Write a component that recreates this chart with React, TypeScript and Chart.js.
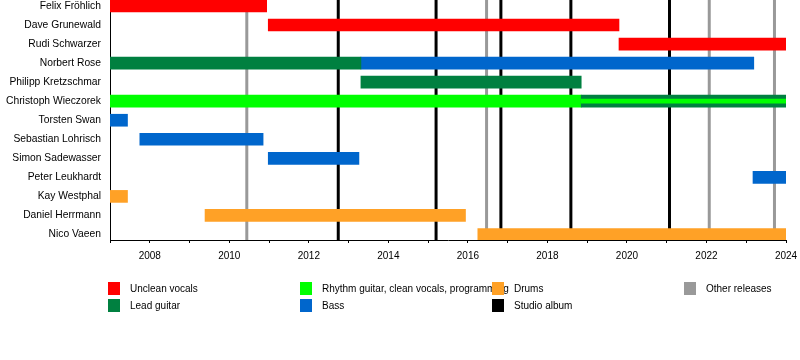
import React, { useEffect, useRef } from "react";
import { Chart, registerables } from "chart.js";
Chart.register(...registerables);

const members = [
  "Felix Fröhlich",
  "Dave Grunewald",
  "Rudi Schwarzer",
  "Norbert Rose",
  "Philipp Kretzschmar",
  "Christoph Wieczorek",
  "Torsten Swan",
  "Sebastian Lohrisch",
  "Simon Sadewasser",
  "Peter Leukhardt",
  "Kay Westphal",
  "Daniel Herrmann",
  "Nico Vaeen",
];

// [member index, start year, end year]
const uncleanVocals: [number, number, number][] = [
  [0, 2007, 2010.94],
  [1, 2010.98, 2019.8],
  [2, 2019.8, 2024],
];
const leadGuitar: [number, number, number][] = [
  [3, 2007, 2013.31],
  [4, 2013.31, 2018.85],
  [5, 2018.85, 2024],
];
const rhythmGuitar: [number, number, number][] = [[5, 2007, 2018.85]];
const rhythmStripe: [number, number, number][] = [[5, 2018.85, 2024]];
const bass: [number, number, number][] = [
  [3, 2013.31, 2023.19],
  [6, 2007, 2007.44],
  [7, 2007.75, 2010.85],
  [8, 2010.98, 2013.26],
  [9, 2023.17, 2024],
];
const drums: [number, number, number][] = [
  [10, 2007, 2007.44],
  [11, 2009.39, 2015.94],
  [12, 2016.25, 2024],
];

const studioAlbums = [2012.74, 2015.2, 2016.83, 2018.59, 2021.07];
const otherReleases = [2010.44, 2016.47, 2022.07, 2023.71];

const yearMin = 2007;
const yearMax = 2024;

const legendLabels = [
  ["Unclean vocals", "Lead guitar"],
  ["Rhythm guitar, clean vocals, programming", "Bass"],
  ["Drums", "Studio album"],
  ["Other releases"],
];

const C = {
  red: "#FF0000",
  lead: "#008040",
  rhythm: "#00FF00",
  bass: "#0066CC",
  drums: "#FFA126",
  album: "#000000",
  other: "#999999",
};
const legendColors = [
  [C.red, C.lead],
  [C.rhythm, C.bass],
  [C.drums, C.album],
  [C.other],
];

const FONT = "'Liberation Sans', Arial, sans-serif";

const toData = (rows: [number, number, number][]) =>
  rows.map(([i, s, e]) => ({ x: [s, e], y: i }));

const linesPlugin = {
  id: "releaseLines",
  beforeDatasetsDraw(chart: any) {
    const { ctx, chartArea, scales } = chart;
    ctx.save();
    ctx.lineWidth = 3;
    const draw = (years: number[], color: string) => {
      ctx.strokeStyle = color;
      years.forEach((y) => {
        const px = scales.x.getPixelForValue(y);
        ctx.beginPath();
        ctx.moveTo(px, chartArea.top);
        ctx.lineTo(px, chartArea.bottom);
        ctx.stroke();
      });
    };
    draw(otherReleases, C.other);
    draw(studioAlbums, C.album);
    ctx.restore();
  },
};

const legendPlugin = {
  id: "customLegend",
  afterDraw(chart: any) {
    const { ctx } = chart;
    ctx.save();
    ctx.font = `10px ${FONT}`;
    ctx.textBaseline = "middle";
    ctx.textAlign = "left";
    legendLabels.forEach((col, ci) => {
      const x = 108 + ci * 192;
      col.forEach((label, ri) => {
        const y = 282 + ri * 17;
        ctx.fillStyle = legendColors[ci][ri];
        ctx.fillRect(x, y, 12, 13);
        ctx.fillStyle = "#000";
        ctx.fillText(label, x + 22, y + 7);
      });
    });
    ctx.restore();
  },
};

export default function App() {
  const ref = useRef<HTMLCanvasElement>(null);
  useEffect(() => {
    if (!ref.current) return;
    const common = { borderWidth: 0, barThickness: 12, grouped: false, order: 1 };
    const chart = new Chart(ref.current, {
      type: "bar",
      data: {
        datasets: [
          { label: "Rhythm stripe", data: toData(rhythmStripe) as any, backgroundColor: C.rhythm, borderWidth: 0, barThickness: 4, grouped: false, order: 0 } as any,
          { label: "Unclean vocals", data: toData(uncleanVocals) as any, backgroundColor: C.red, ...common },
          { label: "Lead guitar", data: toData(leadGuitar) as any, backgroundColor: C.lead, ...common },
          { label: "Rhythm guitar", data: toData(rhythmGuitar) as any, backgroundColor: C.rhythm, ...common },
          { label: "Bass", data: toData(bass) as any, backgroundColor: C.bass, ...common },
          { label: "Drums", data: toData(drums) as any, backgroundColor: C.drums, ...common },
        ],
      },
      options: {
        indexAxis: "y",
        responsive: false,
        animation: false,
        layout: { padding: { left: 0, right: 14, top: 0, bottom: 100 } },
        plugins: { legend: { display: false }, tooltip: { enabled: false } },
        scales: {
          x: {
            type: "linear",
            min: yearMin,
            max: yearMax,
            offset: false,
            grid: { drawOnChartArea: false, drawTicks: true, tickLength: 3, color: "#000", offset: false },
            border: { display: true, color: "#000", width: 1 },
            ticks: {
              stepSize: 1,
              autoSkip: false,
              maxRotation: 0,
              padding: 7,
              color: "#000",
              font: { family: FONT, size: 10 },
              callback: (v: any) => (Number(v) % 2 === 0 ? String(v) : ""),
            },
            afterFit: (s: any) => {
              s.height = 20;
              s.paddingLeft = 0;
              s.paddingRight = 0;
            },
          },
          y: {
            type: "linear",
            reverse: true,
            min: -0.315,
            max: 12.29,
            offset: false,
            grid: { display: false, drawTicks: false, offset: false },
            border: { display: true, color: "#000", width: 1 },
            afterBuildTicks: (s: any) => {
              s.ticks = members.map((_, i) => ({ value: i }));
            },
            ticks: {
              padding: 9,
              autoSkip: false,
              color: "#000",
              font: { family: FONT, size: 10.3 },
              callback: (v: any) => members[Number(v)] ?? "",
            },
            afterFit: (s: any) => {
              s.width = 110;
              s.paddingTop = 0;
              s.paddingBottom = 0;
            },
          },
        },
      } as any,
      plugins: [linesPlugin, legendPlugin],
    });
    return () => chart.destroy();
  }, []);
  return (
    <canvas
      ref={ref}
      width={800}
      height={360}
      style={{ position: "absolute", left: 0, top: 0, display: "block", background: "#fff" }}
    />
  );
}
